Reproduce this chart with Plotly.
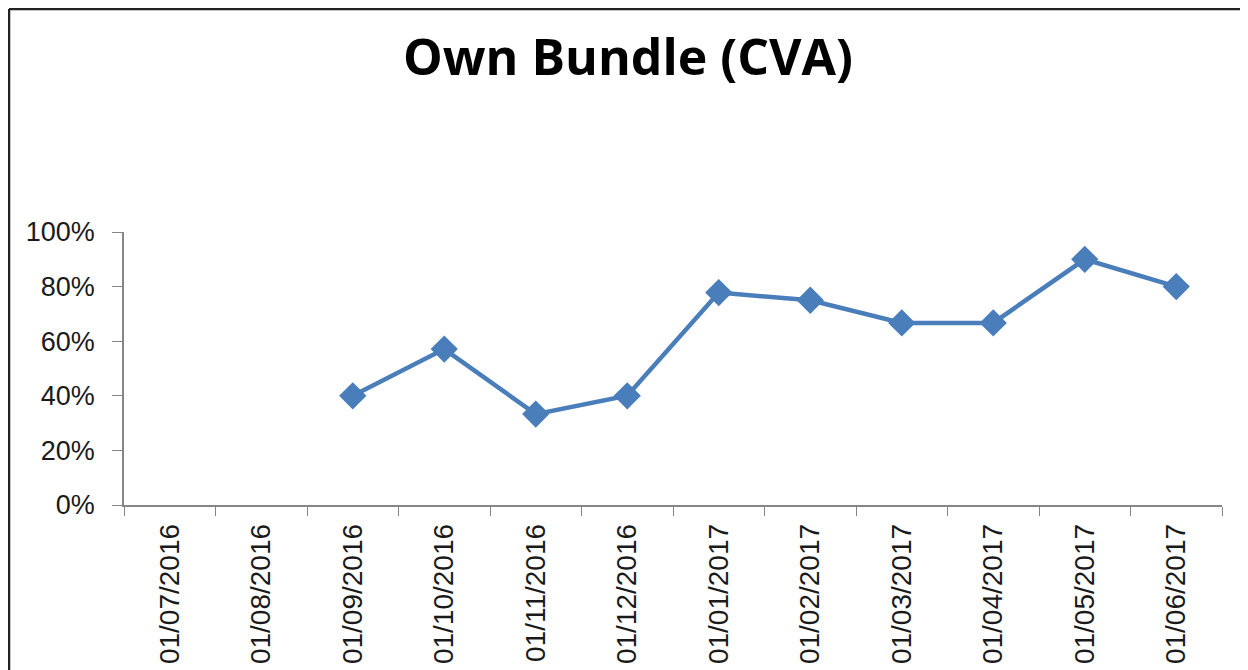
import plotly.graph_objects as go

# ==================== Data ====================
months = ["01/07/2016", "01/08/2016", "01/09/2016", "01/10/2016",
          "01/11/2016", "01/12/2016", "01/01/2017", "01/02/2017",
          "01/03/2017", "01/04/2017", "01/05/2017", "01/06/2017"]
cva_share = [None, None, 0.40, 0.571, 0.333, 0.40, 0.778, 0.75,
             0.667, 0.667, 0.90, 0.80]

# ==================== Plot Line Chart ====================
fig = go.Figure()

fig.add_trace(go.Scatter(
    x=months,
    y=cva_share,
    mode='lines+markers',
    line=dict(color='#4A7EBB', width=4.5),
    marker=dict(symbol='diamond', size=21, color='#4A7EBB'),
    connectgaps=False,
    showlegend=False
))

# ==================== Layout Settings ====================
# page body has an 8px margin, so the figure is sized 8px smaller
W, H = 1240, 662
ml, mr, mt, mb = 116, 26, 224, 165
pw, ph = W - ml - mr, H - mt - mb

fig.update_layout(
    width=W, height=H,
    margin=dict(l=ml, r=mr, t=mt, b=mb),
    paper_bgcolor='white',
    plot_bgcolor='white',
    title=dict(text='<b>Own Bundle (CVA)</b>', x=0.5, xanchor='center',
               y=1 - 49 / H, yanchor='middle',
               font=dict(family='Open Sans', size=50, color='black')),
    font=dict(family='Liberation Sans', color='#1a1a1a'),
    xaxis=dict(
        type='category',
        range=[-0.5, len(months) - 0.5],
        tickangle=-90,
        tickfont=dict(size=28),
        ticks='outside', ticklen=9, tickcolor='#868686',
        tickson='boundaries',
        ticklabelstandoff=6,
        automargin=False,
        showline=True, linecolor='#868686', linewidth=1.5,
        showgrid=False, zeroline=False,
    ),
    yaxis=dict(
        range=[0, 1],
        tickvals=[0, 0.2, 0.4, 0.6, 0.8, 1.0],
        tickformat='.0%',
        tickfont=dict(size=27),
        ticks='outside', ticklen=10, tickcolor='#868686',
        ticklabelstandoff=12,
        automargin=False,
        showline=True, linecolor='#868686', linewidth=1.5,
        showgrid=False, zeroline=False,
    ),
    shapes=[
        # outer chart frame (left, top, right)
        dict(type='line', xref='paper', yref='paper',
             x0=(1 - ml) / pw, x1=(1 - ml) / pw,
             y0=-(mb + 5) / ph, y1=1 + (mt - 1) / ph,
             line=dict(color='#222222', width=2.5)),
        dict(type='line', xref='paper', yref='paper',
             x0=(1 - ml) / pw, x1=(1239 - ml) / pw,
             y0=1 + (mt - 1) / ph, y1=1 + (mt - 1) / ph,
             line=dict(color='#222222', width=2.5)),
        dict(type='line', xref='paper', yref='paper',
             x0=(1238 - ml) / pw, x1=(1238 - ml) / pw,
             y0=-(mb + 5) / ph, y1=1 + (mt - 1) / ph,
             line=dict(color='#555555', width=1.5)),
    ]
)

fig.write_html("out.html")
